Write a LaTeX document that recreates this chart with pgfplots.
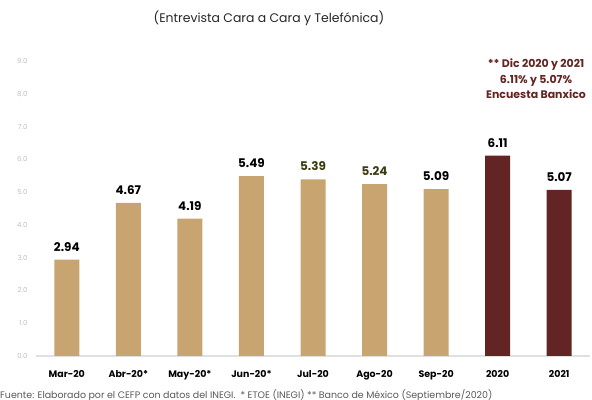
\documentclass[border=0pt]{standalone}
\usepackage{pgfplots}
\pgfplotsset{compat=1.18}
\usepackage{fontspec}
\setmainfont{Poppins}
\definecolor{tan}{HTML}{C8A470}
\definecolor{maroon}{HTML}{632523}
\definecolor{olive}{HTML}{3D3A12}
\definecolor{tickgray}{HTML}{BFBFBF}
\begin{document}
\begin{tikzpicture}
\path[use as bounding box] (0,0) rectangle (592bp,400bp);
\begin{axis}[
    at={(36bp,44bp)}, anchor=south west,
    scale only axis,
    width=554bp, height=295bp,
    xmin=-0.5, xmax=8.5,
    ymin=0, ymax=9,
    ytick={0,1,...,9},
    yticklabel style={/pgf/number format/fixed, /pgf/number format/fixed zerofill, /pgf/number format/precision=1, font=\fontsize{7}{8}\selectfont, text=tickgray, xshift=-5bp},
    /pgf/number format/assume math mode=true,
    xtick={0,...,8},
    xticklabels={Mar-20,Abr-20*,May-20*,Jun-20*,Jul-20,Ago-20,Sep-20,2020,2021},
    xticklabel style={font=\fontsize{9.5}{11}\selectfont\bfseries, text=black, yshift=-11bp},
    axis x line*=bottom,
    axis y line*=left,
    y axis line style={draw=none},
    x axis line style={draw=black!12, line width=1.2bp},
    major tick length=0pt,
    ybar, bar width=25bp, bar shift=0pt,
    point meta=explicit symbolic,
    nodes near coords,
    every node near coord/.append style={font=\fontsize{12}{14}\selectfont\bfseries, yshift=5bp},
    clip=false,
]
\addplot[fill=tan, draw=none, every node near coord/.append style={text=black}] coordinates {
    (0,2.94) [2.94]
    (1,4.67) [4.67]
    (2,4.19) [4.19]
    (3,5.49) [5.49]
    (6,5.09) [5.09]
};
\addplot[fill=tan, draw=none, every node near coord/.append style={text=olive}] coordinates {
    (4,5.39) [5.39]
    (5,5.24) [5.24]
};
\addplot[fill=maroon, draw=none, every node near coord/.append style={text=black}] coordinates {
    (7,6.11) [6.11]
    (8,5.07) [5.07]
};
\end{axis}
\node[font=\fontsize{12.5}{15}\selectfont, text=black!85] at (269bp,382bp) {(Entrevista Cara a Cara y Telefónica)};
\node[font=\fontsize{11}{15.5}\selectfont\bfseries, text=maroon, align=center] at (536bp,321bp) {** Dic 2020 y 2021\\6.11\% y 5.07\%\\Encuesta Banxico};
\node[font=\fontsize{9.5}{11}\selectfont, text=black!65, anchor=west, inner sep=0pt] at (0bp,5bp) {Fuente: Elaborado por el CEFP con datos del INEGI. \ * ETOE (INEGI) ** Banco de México (Septiembre/2020)};
\end{tikzpicture}
\end{document}
